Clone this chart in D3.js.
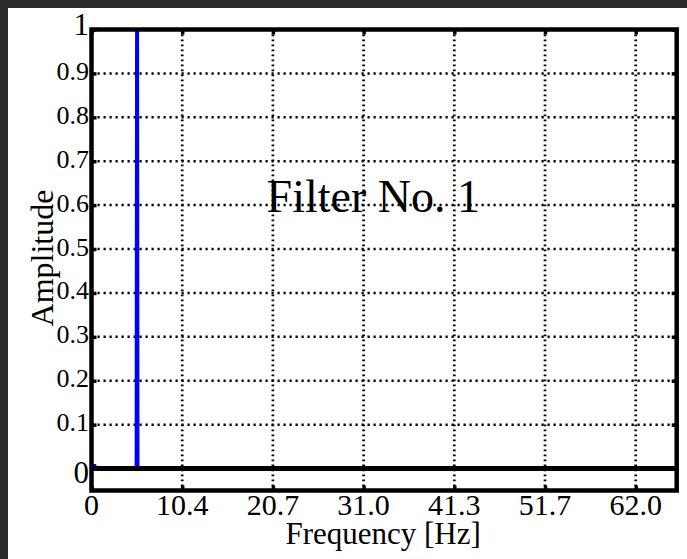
<!DOCTYPE html>
<html>
<head>
<meta charset="utf-8">
<script src="https://cdn.jsdelivr.net/npm/d3@7"></script>
<style>
  html, body { margin: 0; padding: 0; background: #2b2b2b; }
  svg { display: block; }
  text { font-family: "Liberation Serif", "Times New Roman", serif; fill: #000; }
</style>
</head>
<body>
<script>
// Frequency response of filter No. 1
const freqHz    = [0, 0.35, 0.5, 5.14, 5.19, 5.24, 66.67];
const amplitude = [0.006, 0.006, 0, 0, 1.0, 0, 0];
const baseFreq  = [0, 66.67];
const baseAmp   = [0, 0];

const xTickValues = [0, 62 / 6, 2 * 62 / 6, 3 * 62 / 6, 4 * 62 / 6, 5 * 62 / 6, 62];
const xTickLabels = ["0", "10.4", "20.7", "31.0", "41.3", "51.7", "62.0"];
const yTickValues = [0, 0.1, 0.2, 0.3, 0.4, 0.5, 0.6, 0.7, 0.8, 0.9, 1];
const yTickLabels = ["0", "0.1", "0.2", "0.3", "0.4", "0.5", "0.6", "0.7", "0.8", "0.9", "1"];

const W = 687, H = 559;
const plotLeft = 91.5, plotRight = 676.7, plotTop = 29.5, plotBottom = 490.5;

const svg = d3.select("body").append("svg").attr("width", W).attr("height", H);
svg.append("rect").attr("x", 8).attr("y", 8).attr("width", W - 8).attr("height", H - 8).attr("fill", "#fff");

const x = d3.scaleLinear().domain([0, 66.67]).range([plotLeft, plotRight]);
const y = d3.scaleLinear().domain([-0.05, 1]).range([plotBottom, plotTop]);

// dotted grid
const grid = svg.append("g");
grid.append("g").selectAll("line").data(yTickValues.filter(v => v > 0 && v < 1)).join("line")
  .attr("x1", plotLeft).attr("x2", plotRight).attr("y1", d => y(d)).attr("y2", d => y(d))
  .attr("stroke", "#000").attr("stroke-width", 2.5).attr("stroke-dasharray", "2.2,3.8");
grid.append("g").selectAll("line").data(xTickValues.filter(v => v > 0)).join("line")
  .attr("y1", plotTop).attr("y2", plotBottom).attr("x1", d => x(d)).attr("x2", d => x(d))
  .attr("stroke", "#000").attr("stroke-width", 2.7).attr("stroke-dasharray", "1.8,3.2");

// data lines
svg.append("clipPath").attr("id", "plotclip").append("rect")
  .attr("x", plotLeft).attr("y", plotTop).attr("width", plotRight - plotLeft).attr("height", plotBottom - plotTop);
const line = d3.line().x(d => x(d[0])).y(d => y(d[1]));
svg.append("path").attr("clip-path", "url(#plotclip)")
  .attr("d", line(d3.zip(freqHz, amplitude)))
  .attr("fill", "none").attr("stroke", "#0000ff").attr("stroke-width", 4);
svg.append("path").attr("clip-path", "url(#plotclip)")
  .attr("d", line(d3.zip(baseFreq, baseAmp)))
  .attr("fill", "none").attr("stroke", "#000").attr("stroke-width", 5);

// axes with inward ticks on all four sides
const tickLen = 5;
const xB = d3.axisBottom(x).tickValues(xTickValues).tickSize(-tickLen).tickFormat("");
const xT = d3.axisTop(x).tickValues(xTickValues).tickSize(-tickLen).tickFormat("");
const yL = d3.axisLeft(y).tickValues(yTickValues).tickSize(-tickLen).tickFormat("");
const yR = d3.axisRight(y).tickValues(yTickValues).tickSize(-tickLen).tickFormat("");
function styleAxis(g) {
  g.select(".domain").remove();
  g.selectAll(".tick line").attr("stroke", "#000").attr("stroke-width", 3.5);
}
svg.append("g").attr("transform", `translate(0,${plotBottom})`).call(xB).call(styleAxis);
svg.append("g").attr("transform", `translate(0,${plotTop})`).call(xT).call(styleAxis);
svg.append("g").attr("transform", `translate(${plotLeft},0)`).call(yL).call(styleAxis);
svg.append("g").attr("transform", `translate(${plotRight},0)`).call(yR).call(styleAxis);

svg.append("rect").attr("x", plotLeft).attr("y", plotTop)
  .attr("width", plotRight - plotLeft).attr("height", plotBottom - plotTop)
  .attr("fill", "none").attr("stroke", "#000").attr("stroke-width", 4.5);

// tick labels
svg.append("g").selectAll("text").data(xTickValues).join("text")
  .attr("x", d => x(d)).attr("y", 515)
  .attr("text-anchor", "middle").attr("font-size", 30)
  .text((d, i) => xTickLabels[i]);

svg.append("g").selectAll("text").data(yTickValues).join("text")
  .attr("x", 89)
  .attr("y", (d, i) => y(d) + (yTickLabels[i] === "0" ? 14.5 : yTickLabels[i] === "1" ? 5.5 : 6.5))
  .attr("text-anchor", "end")
  .attr("font-size", (d, i) => (yTickLabels[i].length === 1 ? 31 : 26))
  .text((d, i) => yTickLabels[i]);

// axis titles
svg.append("text").attr("x", (plotLeft + plotRight) / 2 - 1).attr("y", 544)
  .attr("text-anchor", "middle").attr("font-size", 31).text("Frequency [Hz]");
svg.append("text")
  .attr("transform", `translate(53,${(plotTop + plotBottom) / 2 - 2}) rotate(-90)`)
  .attr("text-anchor", "middle").attr("font-size", 32).text("Amplitude");

// annotation
svg.append("text").attr("x", x(19.95)).attr("y", y(0.585))
  .attr("font-size", 46).text("Filter No. 1");
</script>
</body>
</html>
